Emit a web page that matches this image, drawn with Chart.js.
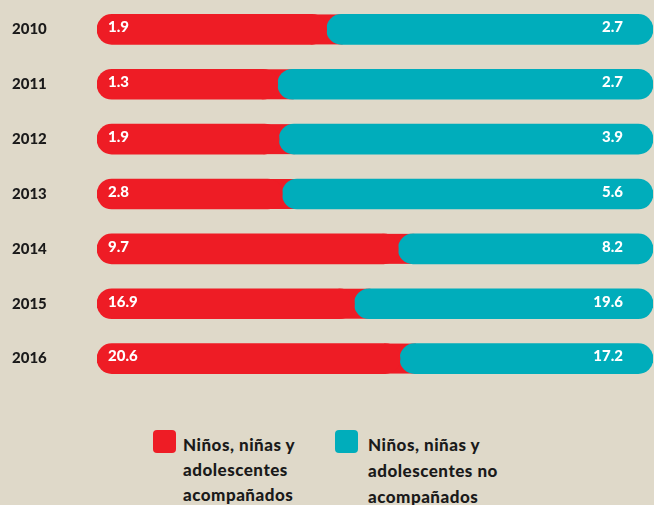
<!DOCTYPE html>
<html><head><meta charset="utf-8">
<script src="https://cdn.jsdelivr.net/npm/chart.js@4/dist/chart.umd.min.js"></script>
<style>
html,body{margin:0;padding:0;background:#dfd9c9;width:654px;height:505px;overflow:hidden;font-family:Lato,"Open Sans",sans-serif;}
#wrap{position:absolute;left:0;top:-7px;width:654px;height:402px;}
.leg{position:absolute;font-weight:900;font-size:17px;letter-spacing:0.5px;color:#1a1a1a;}
.sw{position:absolute;width:23px;height:23px;border-radius:4px;}
.lt{position:absolute;white-space:nowrap;}
</style></head>
<body>
<div id="wrap"><canvas id="c" width="654" height="402"></canvas></div>
<div class="sw" style="left:153px;top:430px;background:#ee1c25"></div>
<div class="leg lt" id="l1" style="left:183px;top:432px;line-height:25px"></div>
<div class="sw" style="left:335px;top:430px;background:#00adbb"></div>
<div class="leg lt" id="l2" style="left:368px;top:432px;line-height:26px"></div>
<script>
const years = ["2010","2011","2012","2013","2014","2015","2016"];
const acompanados = [1.9, 1.3, 1.9, 2.8, 9.7, 16.9, 20.6];
const noAcompanados = [2.7, 2.7, 3.9, 5.6, 8.2, 19.6, 17.2];
const seriesNames = [["Niños, niñas y","adolescentes","acompañados"],["Niños, niñas y","adolescentes no","acompañados"]];

document.getElementById('l1').innerHTML = seriesNames[0].join('<br>');
document.getElementById('l2').innerHTML = seriesNames[1].join('<br>');

const RED = '#ee1c25', TEAL = '#00adbb';
const totals = years.map((y,i)=>acompanados[i]+noAcompanados[i]);
const pctA = acompanados.map((v,i)=>v/totals[i]*100);
const pctN = noAcompanados.map((v,i)=>v/totals[i]*100);
const R = {topLeft:15,topRight:15,bottomLeft:15,bottomRight:15};

const seam = {
  id:'seam',
  beforeDatasetDraw(chart, args){
    if(args.index!==1) return;
    const m0 = chart.getDatasetMeta(0);
    const ctx = chart.ctx;
    ctx.save(); ctx.fillStyle = RED;
    m0.data.forEach(el=>{
      const h = el.height;
      ctx.fillRect(el.x-16, el.y-h/2, 32, h);
    });
    ctx.restore();
  },
  afterDatasetsDraw(chart){
    const ctx = chart.ctx;
    const m0 = chart.getDatasetMeta(0), m1 = chart.getDatasetMeta(1);
    ctx.save();
    ctx.fillStyle = '#ffffff';
    ctx.font = '900 15px Lato, "Open Sans", sans-serif';
    ctx.textBaseline = 'middle';
    m0.data.forEach((el,i)=>{
      ctx.textAlign='left';
      ctx.fillText(acompanados[i].toFixed(1), el.base+11, el.y-2);
    });
    m1.data.forEach((el,i)=>{
      ctx.textAlign='right';
      ctx.fillText(noAcompanados[i].toFixed(1), el.x-30, el.y-2);
    });
    ctx.restore();
  }
};

new Chart(document.getElementById('c'), {
  type:'bar',
  data:{labels:years, datasets:[
    {label:seriesNames[0].join(' '), data:pctA, backgroundColor:RED, borderRadius:R, borderSkipped:false, barThickness:30},
    {label:seriesNames[1].join(' '), data:pctN, backgroundColor:TEAL, borderRadius:R, borderSkipped:false, barThickness:30}
  ]},
  options:{
    indexAxis:'y', responsive:false, animation:false,
    layout:{padding:{top:0,bottom:6,left:12,right:1}},
    plugins:{legend:{display:false}, tooltip:{enabled:false}},
    scales:{
      x:{stacked:true, min:0, max:100, display:false},
      y:{stacked:true, grid:{display:false}, border:{display:false},
         afterFit(s){ s.width = 85; },
         ticks:{crossAlign:'far', padding:0, color:'#1a1a1a', font:{family:'Lato, "Open Sans", sans-serif', weight:'900', size:15}}}
    }
  },
  plugins:[seam]
});
</script>
</body></html>
